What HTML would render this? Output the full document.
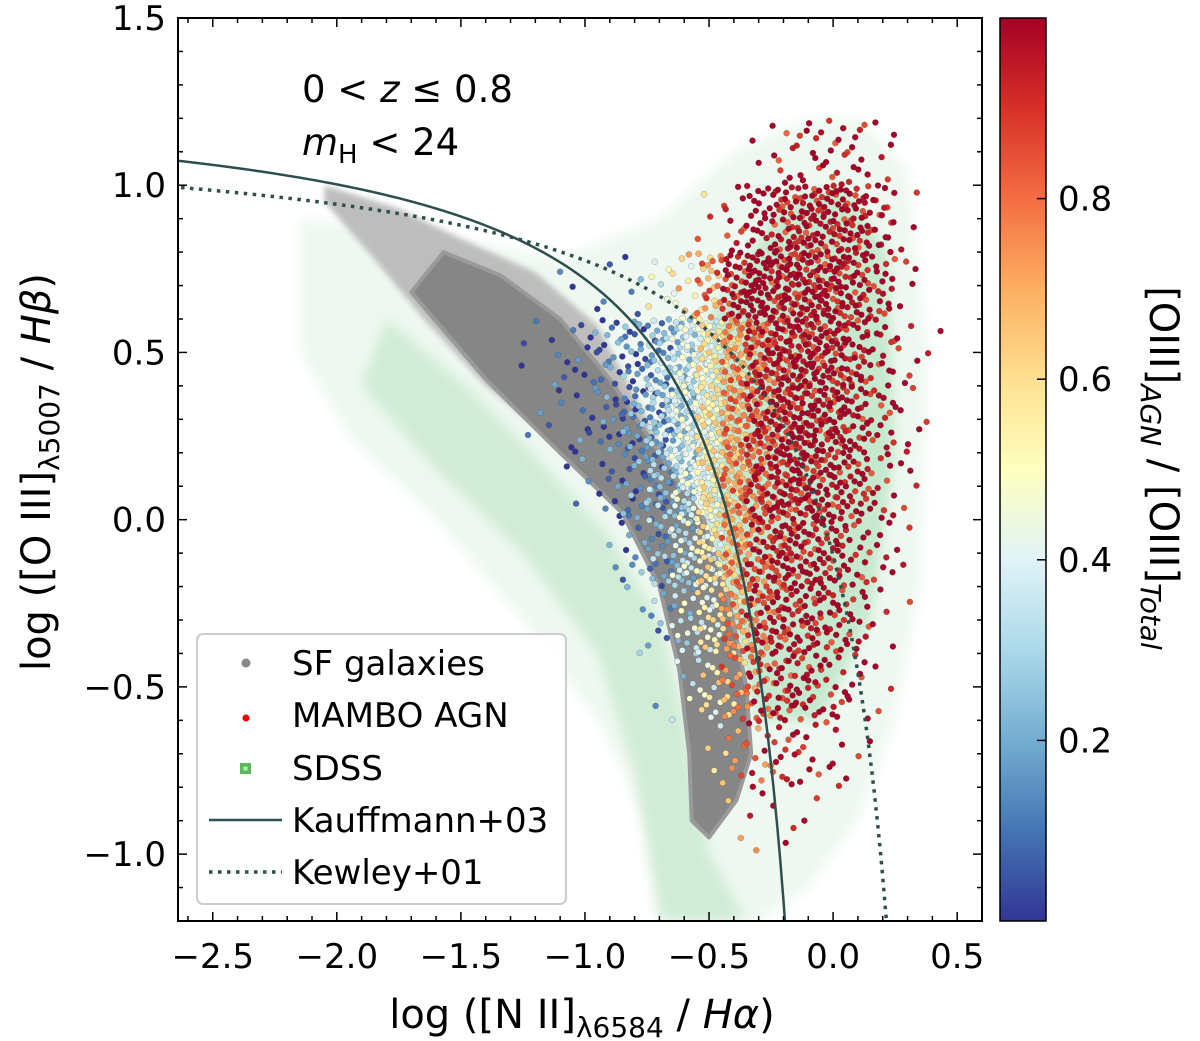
<!DOCTYPE html>
<html><head><meta charset="utf-8"><style>
body{margin:0;background:#fff;}
svg{display:block;font-family:"DejaVu Sans","Liberation Sans",sans-serif;}
</style></head><body>
<svg id="chart" width="1200" height="1041" viewBox="0 0 1200 1041" xmlns="http://www.w3.org/2000/svg">
<defs>
<linearGradient id="cbar" x1="0" y1="1" x2="0" y2="0">
<stop offset="0" stop-color="#313695"/><stop offset="0.1" stop-color="#4575b4"/><stop offset="0.2" stop-color="#74add1"/><stop offset="0.3" stop-color="#abd9e9"/><stop offset="0.4" stop-color="#e0f3f8"/><stop offset="0.5" stop-color="#ffffbf"/><stop offset="0.6" stop-color="#fee090"/><stop offset="0.7" stop-color="#fdae61"/><stop offset="0.8" stop-color="#f46d43"/><stop offset="0.9" stop-color="#d73027"/><stop offset="1" stop-color="#a50026"/>
</linearGradient>
<clipPath id="plotclip"><rect x="178" y="18" width="804" height="903"/></clipPath>
<filter id="blur"><feGaussianBlur stdDeviation="6"/></filter>
<filter id="blur2"><feGaussianBlur stdDeviation="3"/></filter>
</defs>
<g id="plot" clip-path="url(#plotclip)"></g>
<g id="axes"></g>
</svg>
<script>
// ---- data ----
const xTicks=[-2.5,-2.0,-1.5,-1.0,-0.5,0.0,0.5];
const xTickLabels=["\u22122.5","\u22122.0","\u22121.5","\u22121.0","\u22120.5","0.0","0.5"];
const yTicks=[1.5,1.0,0.5,0.0,-0.5,-1.0];
const yTickLabels=["1.5","1.0","0.5","0.0","\u22120.5","\u22121.0"];
const cbTicks=[0.2,0.4,0.6,0.8];
const cbTickLabels=["0.2","0.4","0.6","0.8"];
// SDSS envelope (data coords)
const sdssOuterX=[-2.15,-1.6,-1.1,-0.7,-0.4,-0.1,0.1,0.3,0.38,0.35,0.25,0.1,-0.1,-0.3,-0.6,-0.75,-0.95,-1.25,-1.6,-1.95,-2.15];
const sdssOuterY=[0.9,0.85,0.78,0.9,1.1,1.2,1.2,1.05,0.5,-0.2,-0.6,-0.9,-1.1,-1.2,-1.2,-0.9,-0.6,-0.3,0.0,0.25,0.5];
const sdssBandX=[-1.8,-1.45,-1.15,-0.9,-0.7,-0.6,-0.5,-0.35,-0.7,-0.8,-0.95,-1.25,-1.6,-1.9];
const sdssBandY=[0.6,0.38,0.15,-0.05,-0.3,-0.6,-1.0,-1.2,-1.2,-0.75,-0.4,-0.1,0.15,0.4];
const sdssInnerX=[-0.5,-0.2,0.05,0.22,0.25,0.15,-0.05,-0.3,-0.5];
const sdssInnerY=[0.6,0.95,1.0,0.8,0.2,-0.3,-0.6,-0.6,-0.1];
// SF galaxies (gray cloud outline)
const sfX=[-1.57,-1.34,-1.1,-0.9,-0.7,-0.52,-0.42,-0.35,-0.33,-0.39,-0.5,-0.57,-0.58,-0.62,-0.7,-0.85,-1.1,-1.4,-1.7];
const sfY=[0.8,0.73,0.6,0.42,0.2,0.0,-0.24,-0.5,-0.7,-0.84,-0.95,-0.9,-0.7,-0.45,-0.2,0.02,0.2,0.42,0.68];
const sfHaloX=[-2.05,-1.75,-1.5,-1.2,-0.95,-0.75,-0.55,-0.6,-0.8,-1.1,-1.4,-1.65,-1.85,-2.05];
const sfHaloY=[1.0,0.93,0.84,0.74,0.58,0.3,0.0,-0.1,0.02,0.22,0.4,0.6,0.78,0.95];
// AGN grid counts
const agnCols=[-1.3,-1.2,-1.1,-1.0,-0.9,-0.8,-0.7,-0.6,-0.5,-0.4,-0.3,-0.2,-0.1,0.0,0.1,0.2,0.3,0.4];
const agnRows=[1.1,0.9,0.7,0.5,0.3,0.1,-0.1,-0.3,-0.5,-0.7,-0.9];
const agnCounts=[
[0,0,0,0,0,0,0,0,0,0,2,8,10,12,10,5,0,0],
[0,0,0,0,0,0,0,0,3,10,22,35,40,40,35,18,3,0],
[0,0,1,2,2,4,6,12,25,38,45,50,50,45,35,18,4,0],
[1,2,5,10,15,22,32,42,50,52,52,50,50,42,30,14,6,2],
[0,2,4,8,14,28,42,50,55,55,52,50,50,42,30,14,6,1],
[0,0,1,3,8,20,35,50,52,52,50,50,45,35,25,12,4,0],
[0,0,0,0,3,8,22,38,45,45,42,42,35,28,16,7,3,0],
[0,0,0,0,0,3,8,18,30,38,36,35,30,22,14,4,1,0],
[0,0,0,0,0,0,1,6,15,22,28,28,22,14,8,3,0,0],
[0,0,0,0,0,0,0,0,3,8,12,12,9,6,3,0,0,0],
[0,0,0,0,0,0,0,0,0,2,3,3,2,0,0,0,0,0]];
const agnColColor=[0.02,0.02,0.03,0.05,0.08,0.12,0.2,0.33,0.5,0.72,0.88,0.97,1,1,1,1,1,1];

// ---- scales ----
const X0=-2.64,X1=0.6,PX0=178,PX1=982,Y0=-1.2,Y1=1.5,PY0=921,PY1=18;
const sx=v=>PX0+(v-X0)/(X1-X0)*(PX1-PX0);
const sy=v=>PY0+(v-Y0)/(Y1-Y0)*(PY1-PY0);
const cy=v=>921-v*903;
const NS="http://www.w3.org/2000/svg";
function mk(tag,attrs,parent){const e=document.createElementNS(NS,tag);for(const k in attrs)e.setAttribute(k,attrs[k]);parent.appendChild(e);return e;}
const plot=document.getElementById('plot'),axes=document.getElementById('axes');
const stops=[[0,[49,54,149]],[0.1,[69,117,180]],[0.2,[116,173,209]],[0.3,[171,217,233]],[0.4,[224,243,248]],[0.5,[255,255,191]],[0.6,[254,224,144]],[0.7,[253,174,97]],[0.8,[244,109,67]],[0.9,[215,48,39]],[1,[165,0,38]]];
function cmap(t){t=Math.max(0,Math.min(1,t));for(let i=1;i<stops.length;i++){if(t<=stops[i][0]){const a=stops[i-1],b=stops[i],f=(t-a[0])/(b[0]-a[0]);return 'rgb('+a[1].map((c,j)=>Math.round(c+(b[1][j]-c)*f)).join(',')+')';}}return 'rgb(165,0,38)';}
const poly=(xs,ys)=>xs.map((x,i)=>sx(x).toFixed(1)+','+sy(ys[i]).toFixed(1)).join(' ');

// SDSS
let e=mk('polygon',{points:poly(sdssOuterX,sdssOuterY),fill:'#eef8f0',filter:'url(#blur)'},plot);

e=mk('polygon',{points:poly(sdssBandX,sdssBandY),fill:'#d0ecd6',filter:'url(#blur)'},plot);

e=mk('polygon',{points:poly(sdssInnerX,sdssInnerY),fill:'#c6e8ce',filter:'url(#blur)'},plot);

// SF galaxies
e=mk('polygon',{points:poly(sfHaloX,sfHaloY),fill:'#bdbdbd',filter:'url(#blur2)'},plot);

e=mk('polygon',{points:poly(sfX,sfY),fill:'#868686',stroke:'#9a9a9a','stroke-width':4,'stroke-linejoin':'round'},plot);


// AGN points (deterministic Halton placement within cells)
function halton(i,b){let f=1,r=0;while(i>0){f/=b;r+=f*(i%b);i=Math.floor(i/b);}return r;}
const pts=[];let idx=1;
agnRows.forEach((ry,ri)=>agnCols.forEach((cx,ci)=>{const n=agnCounts[ri][ci];for(let k=0;k<n;k++){const u=halton(idx,2),v=halton(idx,3),w=halton(idx,5);idx++;
  let c=agnColColor[ci]+(w-0.5)*0.35+(ry>0.6&&cx>-0.8&&cx<-0.25?0.25:0);pts.push([cx-0.05+u*0.1,ry-0.1+v*0.2,Math.max(0,Math.min(1,c))]);}}));
pts.sort((a,b)=>a[2]-b[2]);
const ag=mk('g',{},plot);
pts.forEach(p=>{mk('circle',{cx:sx(p[0]).toFixed(1),cy:sy(p[1]).toFixed(1),r:3,fill:cmap(p[2]),stroke:'rgba(60,60,60,0.45)','stroke-width':0.5},ag);});

// Curves
function curve(a,b,c,xmax,name,dash){let d='';for(let x=-2.7;x<=xmax;x+=0.005){const y=a/(x-b)+c;if(y<-1.25)break;d+=(d?'L':'M')+sx(x).toFixed(1)+','+sy(y).toFixed(1);}
  const p=mk('path',{d:d,fill:'none',stroke:'#2f4f4f','stroke-width':dash?3.5:2.5},plot);if(dash)p.setAttribute('stroke-dasharray','3.5,5.5');
  }
curve(0.61,0.05,1.3,0.04,'kauffmann-line',false);
curve(0.61,0.47,1.19,0.46,'kewley-line',true);

// Frame
e=mk('rect',{x:178,y:18,width:804,height:903,fill:'none',stroke:'#000','stroke-width':2},axes);

for(let v=-2.6;v<=0.601;v+=0.1){const X=sx(v),maj=Math.abs(v*2-Math.round(v*2))<1e-6,L=maj?9:5;
 mk('line',{x1:X,y1:921,x2:X,y2:921-L,stroke:'#000','stroke-width':1.5},axes);mk('line',{x1:X,y1:18,x2:X,y2:18+L,stroke:'#000','stroke-width':1.5},axes);}
for(let v=-1.2;v<=1.501;v+=0.1){const Y=sy(v),maj=Math.abs(v*2-Math.round(v*2))<1e-6,L=maj?9:5;
 mk('line',{x1:178,y1:Y,x2:178+L,y2:Y,stroke:'#000','stroke-width':1.5},axes);mk('line',{x1:982,y1:Y,x2:982-L,y2:Y,stroke:'#000','stroke-width':1.5},axes);}
xTicks.forEach((v,i)=>{const t=mk('text',{x:sx(v),y:968,'text-anchor':'middle','font-size':34},axes);t.textContent=xTickLabels[i];
 });
yTicks.forEach((v,i)=>{const t=mk('text',{x:166,y:sy(v)+12,'text-anchor':'end','font-size':34},axes);t.textContent=yTickLabels[i];
 });

// Colorbar
e=mk('rect',{x:1000,y:18,width:46,height:903,fill:'url(#cbar)',stroke:'#000','stroke-width':1.5},axes);

cbTicks.forEach((v,i)=>{mk('line',{x1:1046,y1:cy(v),x2:1037,y2:cy(v),stroke:'#000','stroke-width':1.5},axes);
 const t=mk('text',{x:1058,y:cy(v)+12,'font-size':34},axes);t.textContent=cbTickLabels[i];
 });
</script>
<svg style="position:absolute;left:0;top:0" width="1200" height="1041" xmlns="http://www.w3.org/2000/svg" font-family="DejaVu Sans, Liberation Sans, sans-serif">
<g font-size="37">
<text x="302" y="102">0 &lt; <tspan font-style="italic">z</tspan> ≤ 0.8</text>
<text x="302" y="155"><tspan font-style="italic">m</tspan><tspan font-size="26" dy="8">H</tspan><tspan dy="-8"> &lt; 24</tspan></text>
</g>
<g>
<rect x="197" y="634" width="369" height="270" rx="6" fill="#fff" fill-opacity="0.85" stroke="#ccc" stroke-width="2"/>
<circle cx="246" cy="663" r="4.5" fill="#888"/>
<text x="292" y="675" font-size="34">SF galaxies</text>
<circle cx="246" cy="718" r="3.5" fill="#e00"/>
<text x="292" y="727" font-size="34">MAMBO AGN</text>
<rect x="240" y="763" width="11" height="11" fill="#5cb85c"/><rect x="243.5" y="766.5" width="4" height="4" fill="#bfe5bf"/>
<text x="292" y="780" font-size="34">SDSS</text>
<line x1="209" y1="820" x2="282" y2="820" stroke="#2f4f4f" stroke-width="2.5"/>
<text x="292" y="832" font-size="34">Kauffmann+03</text>
<line x1="209" y1="872" x2="282" y2="872" stroke="#2f4f4f" stroke-width="3.5" stroke-dasharray="3.5,5.5"/>
<text x="292" y="884" font-size="34">Kewley+01</text>
</g>
<text x="582" y="1028" text-anchor="middle" font-size="40">log ([N II]<tspan font-size="28" dy="9">λ6584</tspan><tspan dy="-9"> / </tspan><tspan font-style="italic">Hα</tspan>)</text>
<text transform="translate(50,472) rotate(-90)" text-anchor="middle" font-size="40">log ([O III]<tspan font-size="28" dy="9">λ5007</tspan><tspan dy="-9"> / </tspan><tspan font-style="italic">Hβ</tspan>)</text>
<text transform="translate(1150,468) rotate(90)" text-anchor="middle" font-size="40">[OIII]<tspan font-size="28" dy="9" font-style="italic">AGN</tspan><tspan dy="-9"> / [OIII]</tspan><tspan font-size="28" dy="9" font-style="italic">Total</tspan></text>
</svg>
</body></html>
